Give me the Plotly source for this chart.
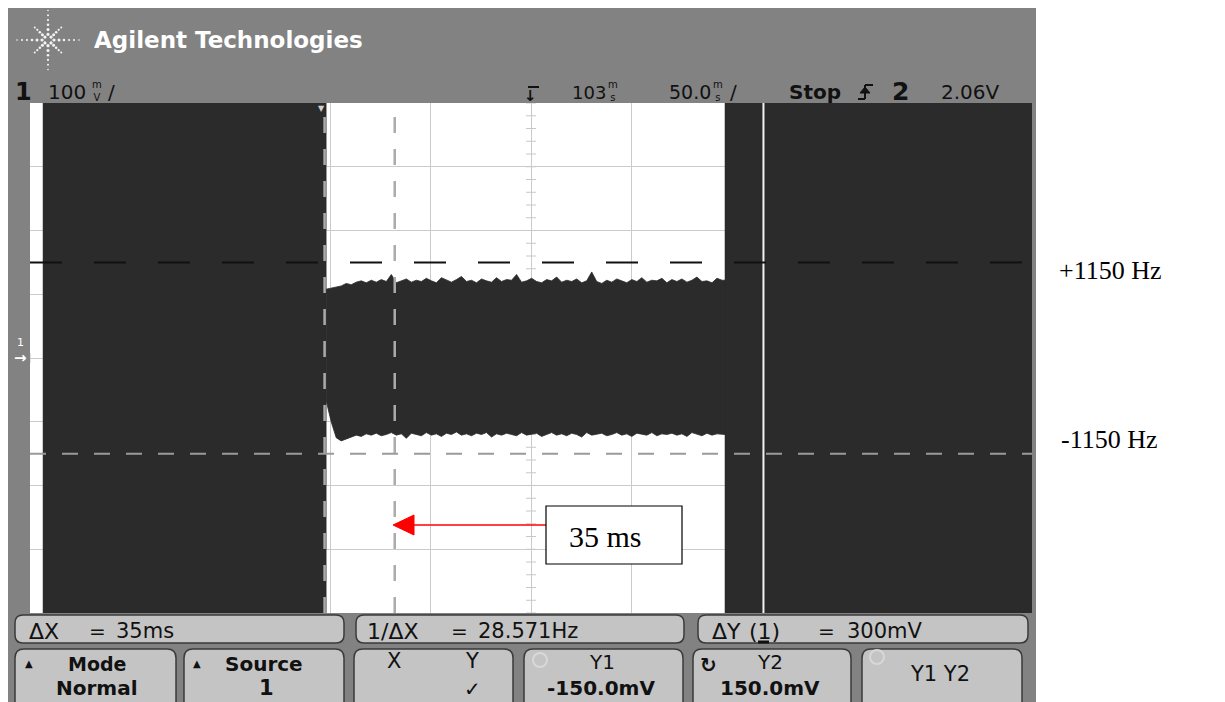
import math
import plotly.graph_objects as go

W, H = 1225, 702

# ---------------- data ----------------
time_range_ms = [-147, 353]          # 50 ms/div, centre (delay) = 103 ms
volt_range_mV = [-400, 400]          # 100 mV/div
grid_time_ms = [-147, -97, -47, 3, 53, 103, 153, 203, 253, 303, 353]
grid_volt_mV = [-400, -300, -200, -100, 0, 100, 200, 300, 400]

overrange_mV = [-450, 450]           # clipped signal fills the whole screen
left_burst_ms = [-140.5, 0.8]
right_burst_ms = [199.8, 360]
glitch_ms = 219

band_start_ms = 0.8
band_step_ms = 2.5
band_end_ms = 199.8
band_top_mV = [108, 110, 112, 113, 117, 115, 119, 121, 118, 122,
               119, 123, 120, 131, 118, 121, 124, 119, 122, 120,
               125, 121, 118, 126, 122, 119, 123, 128, 120, 122,
               118, 124, 121, 119, 126, 120, 123, 122, 131, 119,
               121, 125, 120, 118, 123, 121, 127, 119, 122, 120,
               124, 118, 121, 135, 120, 117, 122, 119, 124, 121,
               118, 123, 120, 126, 119, 122, 121, 125, 118, 123,
               120, 124, 119, 122, 127, 120, 121, 118, 125, 122]
band_bottom_mV = [-67, -100, -125, -130, -128, -124, -121, -123, -119, -121,
                  -118, -122, -120, -117, -121, -119, -126, -118, -120, -122,
                  -117, -121, -119, -123, -118, -120, -116, -121, -119, -122,
                  -118, -120, -117, -124, -119, -121, -118, -120, -122, -117,
                  -121, -119, -118, -123, -120, -117, -121, -119, -122, -118,
                  -120, -124, -117, -121, -119, -118, -122, -120, -117, -121,
                  -119, -123, -118, -120, -121, -117, -122, -119, -120, -118,
                  -121, -119, -123, -117, -120, -122, -118, -121, -119, -120]

cursor_x_ms = [0, 35]
cursor_y_mV = [-150, 150]

DARK = "#2b2b2b"
BEZEL = "#828282"
KEY = "#c4c4c4"

# ---------------- helpers (pixel -> paper) ----------------
def px(x):
    return x / W


def py(y):
    return 1 - y / H


shapes = []
annotations = []


def txt(x, y, s, size=20, color="#111111", bold=False, anchor="left",
        family="DejaVu Sans"):
    annotations.append(dict(
        x=px(x), y=py(y), xref="paper", yref="paper",
        text=f"<b>{s}</b>" if bold else s, showarrow=False,
        xanchor=anchor, yanchor="middle",
        font=dict(size=size, color=color, family=family)))


def pline(x0, y0, x1, y1, color="#111111", width=2):
    shapes.append(dict(type="line", xref="paper", yref="paper", x0=px(x0), x1=px(x1),
                       y0=py(y0), y1=py(y1), line=dict(color=color, width=width),
                       layer="above"))


def rrect(x0, y0, x1, y1, r, fill, line="#3a3a3a", lw=1.5):
    pts = (f"M {px(x0 + r)},{py(y0)} L {px(x1 - r)},{py(y0)} "
           f"Q {px(x1)},{py(y0)} {px(x1)},{py(y0 + r)} "
           f"L {px(x1)},{py(y1 - r)} Q {px(x1)},{py(y1)} {px(x1 - r)},{py(y1)} "
           f"L {px(x0 + r)},{py(y1)} Q {px(x0)},{py(y1)} {px(x0)},{py(y1 - r)} "
           f"L {px(x0)},{py(y0 + r)} Q {px(x0)},{py(y0)} {px(x0 + r)},{py(y0)} Z")
    shapes.append(dict(type="path", path=pts, xref="paper", yref="paper",
                       fillcolor=fill, line=dict(color=line, width=lw),
                       layer="above"))


# ---------------- figure ----------------
fig = go.Figure()

# minor ticks on the centre lines
t_c = (time_range_ms[0] + time_range_ms[1]) / 2
v_c = (volt_range_mV[0] + volt_range_mV[1]) / 2
div_t = (time_range_ms[1] - time_range_ms[0]) / 10
div_v = (volt_range_mV[1] - volt_range_mV[0]) / 8
mx, my = [], []
for i in range(41):
    v = volt_range_mV[0] + i * div_v / 5
    mx += [t_c - div_t * 0.05, t_c + div_t * 0.05, None]
    my += [v, v, None]
for i in range(51):
    t = time_range_ms[0] + i * div_t / 5
    mx += [t, t, None]
    my += [v_c - div_v * 0.08, v_c + div_v * 0.08, None]
fig.add_trace(go.Scatter(x=mx, y=my, mode="lines",
                         line=dict(color="#c8c8c8", width=1),
                         hoverinfo="skip", showlegend=False))

# clipped bursts (full screen)
for seg in (left_burst_ms, right_burst_ms):
    fig.add_trace(go.Scatter(
        x=[seg[0], seg[1], seg[1], seg[0], seg[0]],
        y=[overrange_mV[0], overrange_mV[0], overrange_mV[1], overrange_mV[1], overrange_mV[0]],
        fill="toself", fillcolor=DARK, mode="lines",
        line=dict(color=DARK, width=0.5), hoverinfo="skip", showlegend=False))

# in-range band
band_t = [band_start_ms + band_step_ms * k for k in range(len(band_top_mV))]
bx = band_t + [band_end_ms, band_end_ms] + band_t[::-1] + [band_t[0]]
by = band_top_mV + [band_top_mV[-1], band_bottom_mV[-1]] + band_bottom_mV[::-1] + [band_top_mV[0]]
fig.add_trace(go.Scatter(x=bx, y=by, fill="toself", fillcolor=DARK, mode="lines",
                         line=dict(color=DARK, width=0.8),
                         hoverinfo="skip", showlegend=False))

# glitch line inside right burst
fig.add_trace(go.Scatter(x=[glitch_ms, glitch_ms], y=overrange_mV, mode="lines",
                         line=dict(color="#f2f2f2", width=2),
                         hoverinfo="skip", showlegend=False))

# ---------------- cursors ----------------
for xc in cursor_x_ms:
    shapes.append(dict(type="line", xref="x", yref="y", x0=xc, x1=xc,
                       y0=volt_range_mV[0], y1=volt_range_mV[1], layer="above",
                       line=dict(color="#ababab", width=2.5, dash="16px,16px")))
shapes.append(dict(type="line", xref="x", yref="y", x0=time_range_ms[0], x1=time_range_ms[1],
                   y0=cursor_y_mV[0], y1=cursor_y_mV[0], layer="above",
                   line=dict(color="#9a9a9a", width=2, dash="16px,16px")))
shapes.append(dict(type="line", xref="x", yref="y", x0=time_range_ms[0], x1=time_range_ms[1],
                   y0=cursor_y_mV[1], y1=cursor_y_mV[1], layer="above",
                   line=dict(color="#111111", width=2, dash="32px,32px")))

# ---------------- bezel + white screen ----------------
shapes.insert(0, dict(type="rect", xref="paper", yref="paper", x0=px(30), x1=px(1032),
                      y0=py(613), y1=py(103), fillcolor="#ffffff", line=dict(width=0),
                      layer="below"))
shapes.insert(0, dict(type="rect", xref="paper", yref="paper", x0=px(8), x1=px(1036),
                      y0=py(702), y1=py(8), fillcolor=BEZEL, line=dict(width=0), layer="below"))

# logo (starburst of dots)
cx, cy = 48, 40
for k in range(8):
    ang = k * math.pi / 4
    reach = 1.0 if k % 2 == 0 else 0.72
    for d, r in ((6, 1.6), (11, 1.5), (16, 1.3), (21, 1.1), (26, 1.0), (31, 0.8)):
        if k % 2 == 1 and d > 26:
            continue
        dd = d * reach
        x = cx + dd * math.cos(ang)
        y = cy + dd * math.sin(ang) * 0.95
        shapes.append(dict(type="circle", xref="paper", yref="paper",
                           x0=px(x - r), x1=px(x + r), y0=py(y + r), y1=py(y - r),
                           fillcolor="#f4f4f4", line=dict(width=0), layer="above"))
txt(92, 40, "Agilent Technologies", 23, "#ffffff", bold=True)

# header status line
txt(13, 92, "1", 24, bold=True)
txt(46, 92, "100", 20)
txt(97, 91, "m<br>V", 10, anchor="center")
txt(106, 92, "/", 20)
txt(530, 96, "↓", 15, bold=True, anchor="center")
pline(528, 87, 539, 87, width=2)
txt(570, 92, "103", 18)
txt(613, 91, "m<br>s", 10, anchor="center")
txt(667, 92, "50.0", 19)
txt(718, 91, "m<br>s", 10, anchor="center")
txt(728, 92, "/", 20)
txt(787, 92, "Stop", 20, bold=True)
# rising-edge trigger symbol
pline(858, 99, 865, 99, width=2)
pline(865, 99, 865, 85, width=2)
pline(865, 85, 873, 85, width=2)
shapes.append(dict(type="path", xref="paper", yref="paper",
                   path=f"M {px(860)},{py(93)} L {px(870)},{py(93)} L {px(865)},{py(87)} Z",
                   fillcolor="#111111", line=dict(color="#111111", width=1)))
txt(890, 91, "2", 25, bold=True)
txt(939, 92, "2.06V", 20)

# ground marker at left
txt(15, 342, "1", 11, "#ffffff")
txt(12, 358, "→", 15, "#ffffff", bold=True)

# X1 marker at top of screen
txt(321, 108, "▼", 8, "#d0d0d0", anchor="center")

# ---------------- softkey area ----------------
rrect(15, 615, 344, 643, 8, KEY)
rrect(356, 615, 684, 643, 8, KEY)
rrect(698, 615, 1028, 643, 8, KEY)
for x0, x1 in ((15, 176), (184, 344), (354, 513), (524, 683), (693, 851), (862, 1022)):
    rrect(x0, 649, x1, 712, 9, KEY)

txt(27, 631, "ΔX", 22)
txt(87, 631, "=", 20)
txt(114, 631, "35ms", 21)
txt(365, 631, "1/ΔX", 22)
txt(449, 631, "=", 20)
txt(476, 631, "28.571Hz", 21)
txt(710, 631, "ΔY", 22)
txt(747, 631, "(1)", 22)
pline(758, 642, 769, 642, width=3)
txt(816, 631, "=", 20)
txt(845, 631, "300mV", 21)

txt(29, 663, "▲", 10, anchor="center")
txt(97, 664, "Mode", 19, bold=True, anchor="center")
txt(97, 688, "Normal", 20, bold=True, anchor="center")
txt(197, 663, "▲", 10, anchor="center")
txt(264, 664, "Source", 20, bold=True, anchor="center")
txt(266, 688, "1", 21, bold=True, anchor="center")
txt(394, 661, "X", 21, anchor="center")
txt(472, 661, "Y", 21, anchor="center")
txt(472, 689, "✓", 20, anchor="center")
shapes.append(dict(type="circle", xref="paper", yref="paper", x0=px(533), x1=px(547),
                   y0=py(667), y1=py(653), line=dict(color="#d8d8d8", width=2)))
txt(602, 662, "Y1", 20, anchor="center")
txt(601, 688, "-150.0mV", 20, bold=True, anchor="center")
txt(708, 665, "↻", 20, bold=True, anchor="center")
txt(770, 662, "Y2", 20, anchor="center")
txt(770, 688, "150.0mV", 20, bold=True, anchor="center")
shapes.append(dict(type="circle", xref="paper", yref="paper", x0=px(870), x1=px(884),
                   y0=py(664), y1=py(650), line=dict(color="#d8d8d8", width=2)))
txt(940, 674, "Y1 Y2", 21, anchor="center")

# ---------------- document annotations ----------------
pline(411, 525, 546, 525, color="#ff0000", width=1.5)
shapes.append(dict(type="path", xref="paper", yref="paper",
                   path=f"M {px(393)},{py(525)} L {px(414)},{py(515)} L {px(414)},{py(535)} Z",
                   fillcolor="#ff0000", line=dict(color="#ff0000", width=1)))
shapes.append(dict(type="rect", xref="paper", yref="paper", x0=px(546), x1=px(682),
                   y0=py(564), y1=py(506), fillcolor="#ffffff",
                   line=dict(color="#000000", width=1.2), layer="above"))
txt(605, 536, "35 ms", 30, "#000000", anchor="center", family="Liberation Serif")
txt(1057, 270, "+1150 Hz", 26, "#000000", family="Liberation Serif")
txt(1059, 440, "-1150 Hz", 26, "#000000", family="Liberation Serif")

fig.update_layout(
    width=W, height=H, autosize=False,
    margin=dict(l=0, r=0, t=0, b=0),
    paper_bgcolor="#ffffff", plot_bgcolor="#ffffff",
    showlegend=False,
    xaxis=dict(domain=[px(30), px(1032)], range=time_range_ms, tickvals=grid_time_ms,
               showticklabels=False, showgrid=True, gridcolor="#cbcbcb", gridwidth=1.2,
               zeroline=False, showline=False, ticks="", fixedrange=True),
    yaxis=dict(domain=[py(613), py(103)], range=volt_range_mV, tickvals=grid_volt_mV,
               showticklabels=False, showgrid=True, gridcolor="#cbcbcb", gridwidth=1.2,
               zeroline=False, showline=False, ticks="", fixedrange=True),
    shapes=shapes,
    annotations=annotations,
)

fig.write_html("out.html", config={"displayModeBar": False},
               post_script="document.body.style.margin='0px';")
